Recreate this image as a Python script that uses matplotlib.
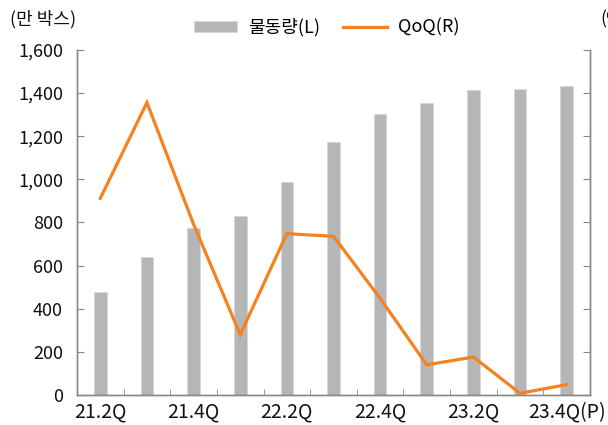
import matplotlib
matplotlib.use("Agg")
import matplotlib.pyplot as plt
import numpy as np
from matplotlib.ticker import FuncFormatter, FixedLocator

plt.rcParams['font.family'] = ['Noto Sans CJK KR', 'DejaVu Sans']

quarters = ["21.2Q", "21.3Q", "21.4Q", "22.1Q", "22.2Q", "22.3Q", "22.4Q",
            "23.1Q", "23.2Q", "23.3Q", "23.4Q(P)"]
volume = [478, 640, 775, 830, 988, 1173, 1303, 1354, 1415, 1419, 1433]
qoq = [22.8, 33.9, 19.8, 7.0, 18.7, 18.4, 11.2, 3.5, 4.4, 0.2, 1.2]
shown_labels = ["21.2Q", "21.4Q", "22.2Q", "22.4Q", "23.2Q", "23.4Q(P)"]

bar_color = "#B5B6B8"
line_color = "#F5821F"
spine_color = "#888888"
fs = 13

fig = plt.figure(figsize=(6.08, 4.25), dpi=100)
ax = fig.add_axes([0.1266, 0.0706, 0.8438, 0.8118])
ax2 = ax.twinx()

x = np.arange(len(quarters))
ax.bar(x, volume, width=0.27, color=bar_color, edgecolor="#D6D7D8", linewidth=0.6,
       label="물동량(L)", zorder=2)
ax2.plot(x, qoq, color=line_color, lw=2.3, label="QoQ(R)", zorder=3,
         solid_joinstyle='miter')

ax.set_xlim(-0.5, len(quarters) - 0.5)
ax.set_ylim(0, 1600)
ax2.set_ylim(0, 40)
ax.set_yticks(np.arange(0, 1601, 200))
ax2.set_yticks(np.arange(0, 41, 5))
ax.yaxis.set_major_formatter(FuncFormatter(lambda v, p: f"{int(v):,}"))

ax.set_xticks([quarters.index(l) for l in shown_labels])
ax.set_xticklabels(shown_labels, fontsize=14, color="#111111")
ax.xaxis.set_minor_locator(FixedLocator(np.arange(-0.5, len(quarters), 1.0)))
ax.tick_params(axis='x', which='major', length=0, pad=5)
ax.tick_params(axis='x', which='minor', length=4, direction='in', color=spine_color)
ax.tick_params(axis='y', length=5, direction='in', color=spine_color,
               labelsize=fs, labelcolor="#111111", pad=10)
ax2.tick_params(axis='y', length=5, direction='in', color=spine_color,
                labelsize=fs, labelcolor="#111111", pad=16)

for a in (ax, ax2):
    a.spines['top'].set_visible(False)
    for s in ('left', 'right', 'bottom'):
        a.spines[s].set_color(spine_color)
        a.spines[s].set_linewidth(1.0)

fig.text(0.016, 0.955, "(만 박스)", fontsize=fs, ha='left', va='center', color="#111111")
fig.text(0.987, 0.955, "(%)", fontsize=fs, ha='left', va='center', color="#111111")

h1, l1 = ax.get_legend_handles_labels()
h2, l2 = ax2.get_legend_handles_labels()
leg = fig.legend(h1 + h2, l1 + l2, loc='center', bbox_to_anchor=(0.537, 0.935), ncol=2,
                 frameon=False, fontsize=13, handlelength=2.4, handleheight=0.5,
                 columnspacing=1.3, handletextpad=0.6)

fig.savefig("out.png", dpi=100)
